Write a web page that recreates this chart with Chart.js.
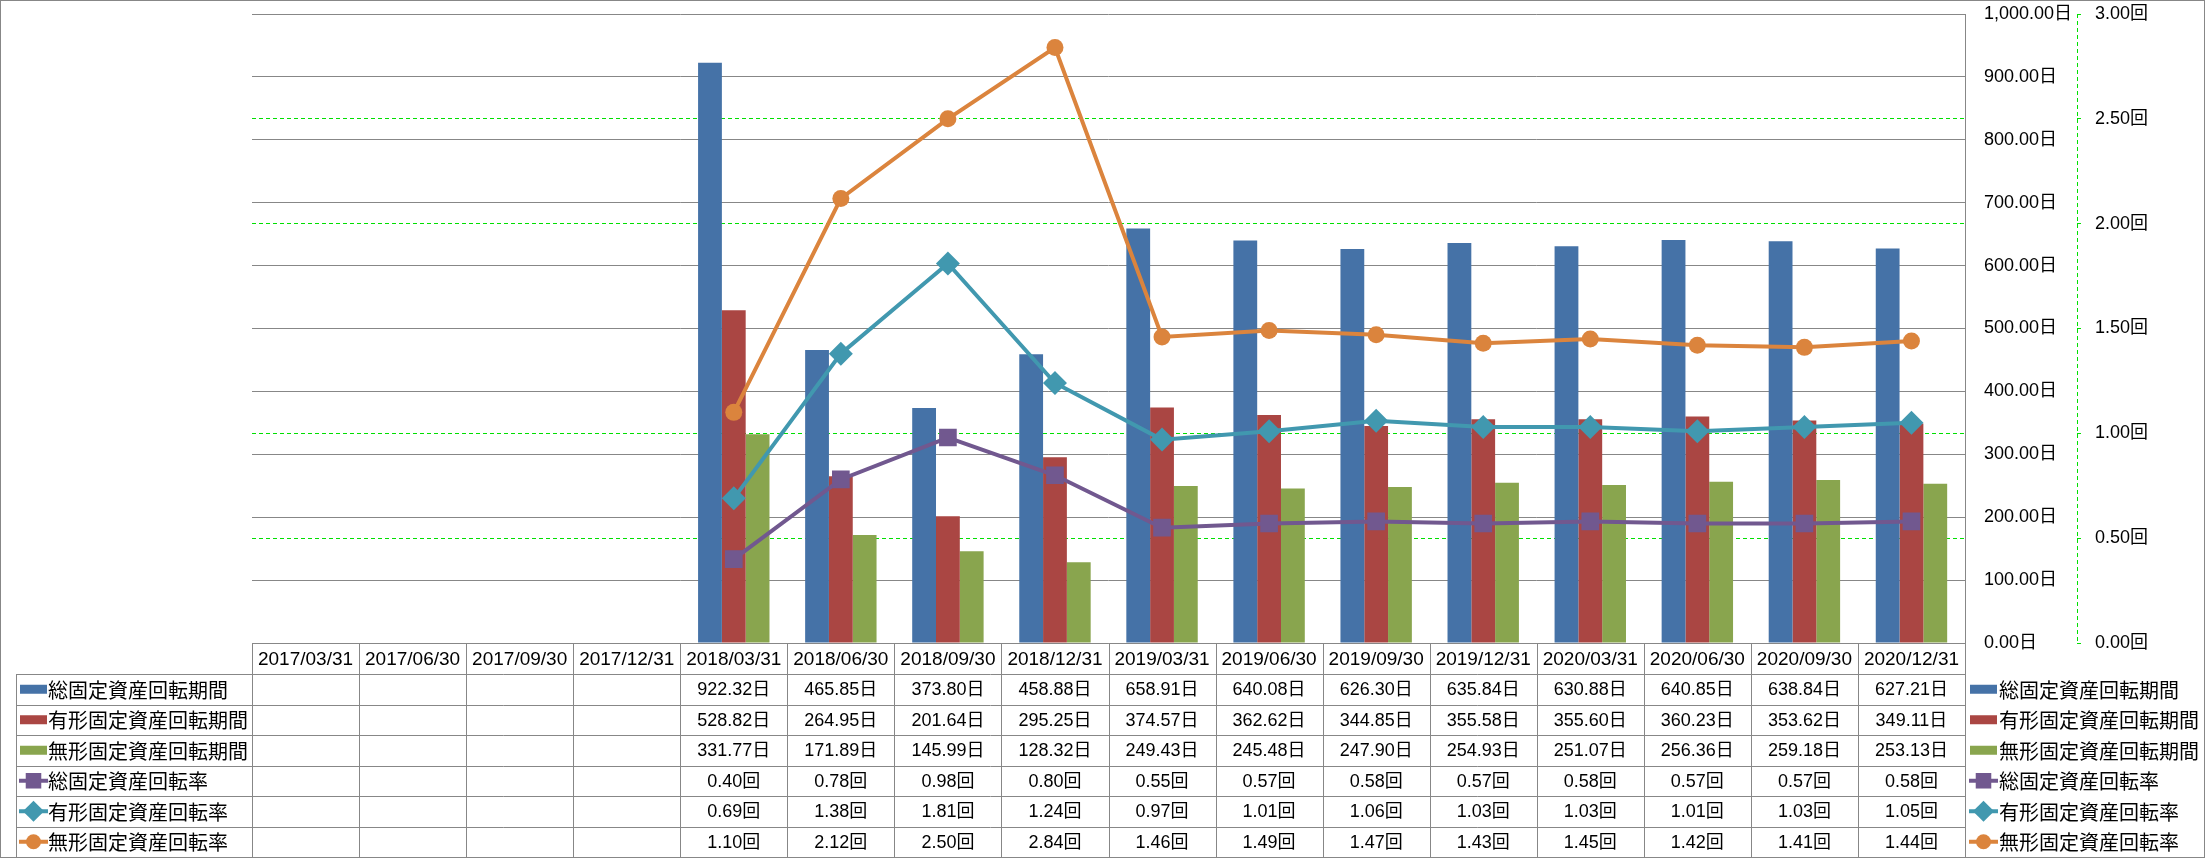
<!DOCTYPE html>
<html>
<head>
<meta charset="utf-8">
<script src="https://cdn.jsdelivr.net/npm/chart.js@4.4.1/dist/chart.umd.min.js"></script>
<style>
    html, body { margin: 0; padding: 0; background: #fff; }
    canvas { display: block; }
</style>
</head>
<body>
<canvas id="turnoverChart" width="2205" height="858"></canvas>
<script>
// 期末日
const periods = ['2017/03/31', '2017/06/30', '2017/09/30', '2017/12/31',
    '2018/03/31', '2018/06/30', '2018/09/30', '2018/12/31',
    '2019/03/31', '2019/06/30', '2019/09/30', '2019/12/31',
    '2020/03/31', '2020/06/30', '2020/09/30', '2020/12/31'];

// 回転期間 (日)
const totalDays = [null, null, null, null, 922.32, 465.85, 373.80, 458.88, 658.91, 640.08, 626.30, 635.84, 630.88, 640.85, 638.84, 627.21];
const tangibleDays = [null, null, null, null, 528.82, 264.95, 201.64, 295.25, 374.57, 362.62, 344.85, 355.58, 355.60, 360.23, 353.62, 349.11];
const intangibleDays = [null, null, null, null, 331.77, 171.89, 145.99, 128.32, 249.43, 245.48, 247.90, 254.93, 251.07, 256.36, 259.18, 253.13];

// 回転率 (回)
const totalRate = [null, null, null, null, 0.40, 0.78, 0.98, 0.80, 0.55, 0.57, 0.58, 0.57, 0.58, 0.57, 0.57, 0.58];
const tangibleRate = [null, null, null, null, 0.69, 1.38, 1.81, 1.24, 0.97, 1.01, 1.06, 1.03, 1.03, 1.01, 1.03, 1.05];
const intangibleRate = [null, null, null, null, 1.10, 2.12, 2.50, 2.84, 1.46, 1.49, 1.47, 1.43, 1.45, 1.42, 1.41, 1.44];

const seriesNames = ['総固定資産回転期間', '有形固定資産回転期間', '無形固定資産回転期間',
    '総固定資産回転率', '有形固定資産回転率', '無形固定資産回転率'];

const FONT = '"Liberation Sans", "Noto Sans CJK JP", sans-serif';
const CJK_FONT = '"Noto Sans CJK JP", sans-serif';
const LINE_GRAY = '#878787';
const GREEN = '#00E000';

function fmtDays(v) {
    return v.toLocaleString('en-US', { minimumFractionDigits: 2, maximumFractionDigits: 2 }) + '日';
}
function fmtRate(v) {
    return v.toFixed(2) + '回';
}

const datasets = [
    { type: 'bar', label: seriesNames[0], data: totalDays, backgroundColor: '#4572A7', yAxisID: 'y', order: 1 },
    { type: 'bar', label: seriesNames[1], data: tangibleDays, backgroundColor: '#AA4643', yAxisID: 'y', order: 1 },
    { type: 'bar', label: seriesNames[2], data: intangibleDays, backgroundColor: '#89A54E', yAxisID: 'y', order: 1 },
    { type: 'line', label: seriesNames[3], data: totalRate, borderColor: '#71588F', backgroundColor: '#71588F',
      pointStyle: 'rect', pointRadius: 12.5, yAxisID: 'y1', order: 0 },
    { type: 'line', label: seriesNames[4], data: tangibleRate, borderColor: '#4198AF', backgroundColor: '#4198AF',
      pointStyle: 'rectRot', pointRadius: 12, yAxisID: 'y1', order: 0 },
    { type: 'line', label: seriesNames[5], data: intangibleRate, borderColor: '#DB843D', backgroundColor: '#DB843D',
      pointStyle: 'circle', pointRadius: 8.5, yAxisID: 'y1', order: 0 }
];
datasets.forEach(function(ds) {
    if (ds.type === 'line') {
        ds.borderWidth = 4;
        ds.pointBorderWidth = 0;
        ds.tension = 0;
        ds.fill = false;
    } else {
        ds.categoryPercentage = 0.667;
        ds.barPercentage = 1.0;
    }
});

// データテーブルと右側凡例を描く
const tablePlugin = {
    id: 'dataTable',
    afterDraw(chart) {
        const ctx = chart.ctx;
        const area = chart.chartArea;
        const xs = chart.scales.x;
        const n = periods.length;
        const colW = (area.right - area.left) / n;
        const headTop = area.bottom;
        const headBottom = xs.bottom;
        const tableBottom = chart.height - 1;
        const rowH = (tableBottom - headBottom) / seriesNames.length;
        const tableLeft = 16;

        ctx.save();
        ctx.strokeStyle = LINE_GRAY;
        ctx.lineWidth = 1;
        ctx.setLineDash([]);

        function hline(x1, x2, y) {
            ctx.beginPath();
            ctx.moveTo(x1, Math.round(y) + 0.5);
            ctx.lineTo(x2, Math.round(y) + 0.5);
            ctx.stroke();
        }
        function vline(x, y1, y2) {
            ctx.beginPath();
            ctx.moveTo(Math.round(x) + 0.5, y1);
            ctx.lineTo(Math.round(x) + 0.5, y2);
            ctx.stroke();
        }

        hline(area.left, area.right, headTop);
        for (let r = 0; r <= seriesNames.length; r++) {
            hline(tableLeft, area.right, headBottom + r * rowH);
        }
        vline(tableLeft, headBottom, tableBottom);
        for (let i = 0; i <= n; i++) {
            const x = i < n ? xs.getPixelForValue(i) - colW / 2 : xs.getPixelForValue(n - 1) + colW / 2;
            vline(x, headTop, tableBottom);
        }

        const allData = [totalDays, tangibleDays, intangibleDays, totalRate, tangibleRate, intangibleRate];
        ctx.fillStyle = '#000';
        ctx.textBaseline = 'middle';
        ctx.font = '18px ' + FONT;
        ctx.textAlign = 'center';
        allData.forEach(function(values, r) {
            const cy = headBottom + r * rowH + rowH / 2;
            values.forEach(function(v, i) {
                if (v === null) return;
                const txt = r < 3 ? fmtDays(v) : fmtRate(v);
                ctx.fillText(txt, xs.getPixelForValue(i), cy + 1);
            });
        });

        // 凡例キー
        function drawKey(idx, x, cy) {
            const ds = datasets[idx];
            if (ds.type === 'bar') {
                ctx.fillStyle = ds.backgroundColor;
                ctx.fillRect(x, cy - 4.5, 27, 9);
            } else {
                ctx.strokeStyle = ds.borderColor;
                ctx.lineWidth = 4;
                ctx.beginPath();
                ctx.moveTo(x - 1, cy);
                ctx.lineTo(x + 28, cy);
                ctx.stroke();
                ctx.fillStyle = ds.backgroundColor;
                Chart.helpers.drawPoint(ctx, {
                    pointStyle: ds.pointStyle,
                    radius: ds.pointRadius * 0.88,
                    rotation: 0,
                    borderWidth: 0
                }, x + 13.5, cy);
            }
        }

        const rightX = area.right + 5;
        seriesNames.forEach(function(name, r) {
            const cy = headBottom + r * rowH + rowH / 2;
            drawKey(r, tableLeft + 4, cy);
            drawKey(r, rightX, cy);
            ctx.fillStyle = '#000';
            ctx.font = '20px ' + CJK_FONT;
            ctx.textAlign = 'left';
            ctx.fillText(name, tableLeft + 32, cy + 1);
            ctx.fillText(name, rightX + 29, cy + 1);
        });

        // 第2軸の縦線 (破線)
        const y1 = chart.scales.y1;
        ctx.strokeStyle = GREEN;
        ctx.lineWidth = 1;
        ctx.setLineDash([4, 3]);
        vline(y1.left, y1.top, y1.bottom);

        // 外枠
        ctx.setLineDash([]);
        ctx.strokeStyle = LINE_GRAY;
        ctx.strokeRect(0.5, 0.5, chart.width - 1, chart.height - 1);
        ctx.restore();
    }
};

const ctx = document.getElementById('turnoverChart').getContext('2d');
new Chart(ctx, {
    data: {
        labels: periods,
        datasets: datasets
    },
    options: {
        responsive: false,
        animation: false,
        devicePixelRatio: 1,
        layout: {
            padding: { left: 252, top: 14, right: 28, bottom: 184 }
        },
        plugins: {
            legend: { display: false },
            tooltip: { enabled: false }
        },
        scales: {
            x: {
                position: 'bottom',
                grid: { display: false, drawTicks: false },
                border: { display: false },
                ticks: {
                    autoSkip: false,
                    maxRotation: 0,
                    padding: 5,
                    color: '#000',
                    font: { family: FONT, size: 19 }
                },
                afterFit: function(axis) { axis.height = 31; }
            },
            y1: {
                position: 'right',
                weight: 1,
                min: 0,
                max: 3,
                grid: {
                    // 0, 1.5, 3.0 は主軸の灰色線と重なるので描かない
                    color: function(c) {
                        return c.tick && Math.abs(c.tick.value % 1.5) < 1e-6 ? 'rgba(0,0,0,0)' : GREEN;
                    },
                    tickColor: GREEN,
                    lineWidth: 1,
                    drawTicks: true,
                    tickLength: 4
                },
                border: { display: false, dash: [4, 3] },
                ticks: {
                    stepSize: 0.5,
                    padding: 14,
                    color: '#000',
                    font: { family: FONT, size: 18 },
                    callback: function(v) { return fmtRate(v); }
                },
                afterFit: function(axis) {
                    axis.width = 100;
                    axis.paddingTop = 0;
                    axis.paddingBottom = 0;
                }
            },
            y: {
                position: 'right',
                weight: 0,
                min: 0,
                max: 1000,
                grid: { color: LINE_GRAY, lineWidth: 1, drawTicks: false },
                border: { display: true, color: LINE_GRAY, width: 1 },
                ticks: {
                    stepSize: 100,
                    padding: 19,
                    color: '#000',
                    font: { family: FONT, size: 18 },
                    callback: function(v) { return fmtDays(v); }
                },
                afterFit: function(axis) {
                    axis.width = 112;
                    axis.paddingTop = 0;
                    axis.paddingBottom = 0;
                }
            }
        }
    },
    plugins: [tablePlugin]
});
</script>
</body>
</html>
